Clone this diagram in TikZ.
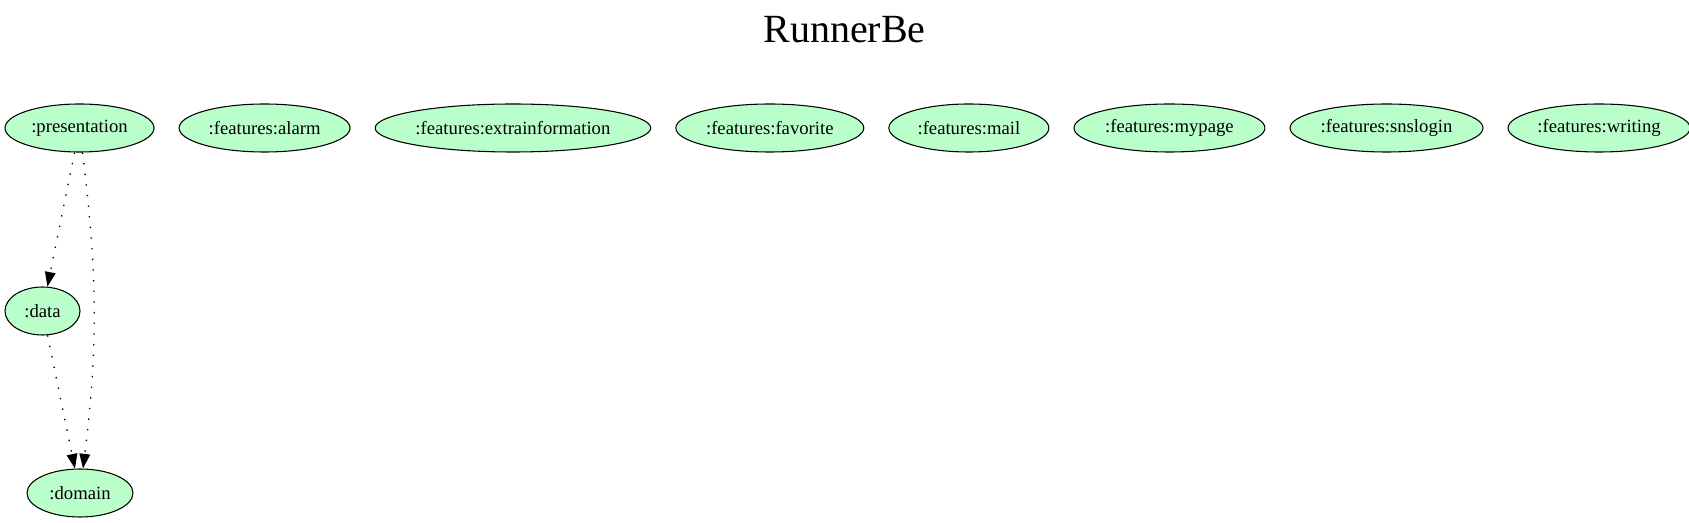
\documentclass[tikz,border=0pt]{standalone}
\usepackage{fontspec}
\setmainfont{Liberation Serif}
\usetikzlibrary{arrows.meta,positioning,shapes.geometric}
\definecolor{modfill}{HTML}{BAFFC9}
\tikzset{
    %Define standard arrow tip
    >={Triangle[length=11pt,width=8pt]},
    %Define style for modules
    modul/.style={
           ellipse,
           draw=black, line width=0.8pt,
           fill=modfill,
           inner sep=0pt,
           minimum height=36pt,
           font=\fontsize{14pt}{16pt}\selectfont},
    % Define arrow style
    dep/.style={
           ->,
           line width=1pt,
           dash pattern=on 1pt off 7pt}
}

\begin{document}
\begin{tikzpicture}[x=0.75pt,y=-0.75pt]
 \useasboundingbox (0,0) rectangle (1689,523);
 %Title
 \node[anchor=base,font=\fontsize{30pt}{34pt}\selectfont] (title) at (844.5,43) {RunnerBe};

 %Modules
 \node[modul,minimum width=111.75pt] (pres) at (79.5,128) {:presentation};
 \node[modul,minimum width=128.25pt,right=18pt of pres] (alarm) {:features:alarm};
 \node[modul,minimum width=206.25pt,right=18pt of alarm] (extra) {:features:extrainformation};
 \node[modul,minimum width=141pt,right=18pt of extra] (fav) {:features:favorite};
 \node[modul,minimum width=120pt,right=18pt of fav] (mail) {:features:mail};
 \node[modul,minimum width=143.25pt,right=18pt of mail] (mypage) {:features:mypage};
 \node[modul,minimum width=144.75pt,right=18pt of mypage] (sns) {:features:snslogin};
 \node[modul,minimum width=136.5pt,right=18pt of sns] (writing) {:features:writing};

 \node[modul,minimum width=56.25pt] (data) at (42.5,311) {:data};
 \node[modul,minimum width=79.5pt] (dom) at (80,493) {:domain};

 %Dependencies
 \draw[dep] (pres) -- (data);
 \draw[dep] (data) -- (dom);
 \draw[dep] (pres) to[out=-83,in=83] (dom);
\end{tikzpicture}
\end{document}
